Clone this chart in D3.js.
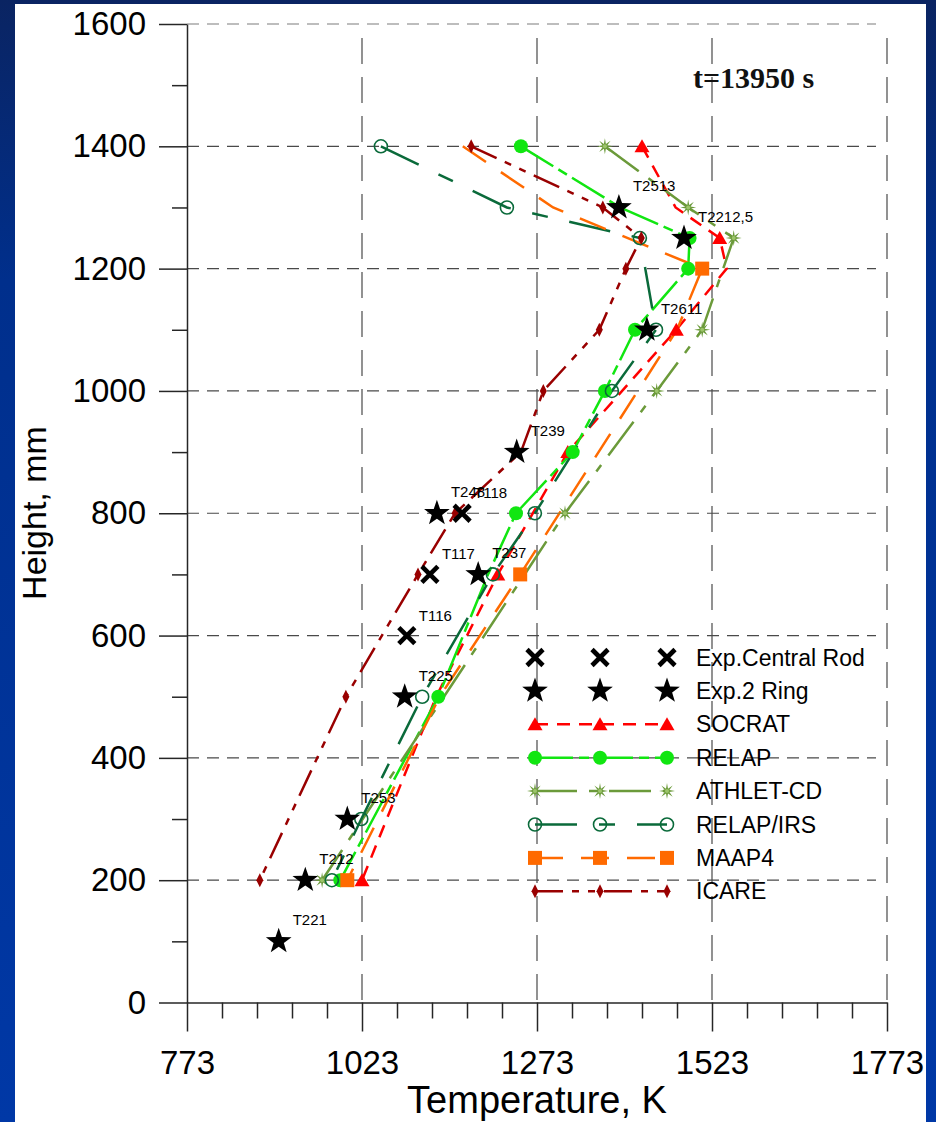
<!DOCTYPE html>
<html>
<head>
<meta charset="utf-8">
<script src="https://cdn.jsdelivr.net/npm/d3@7"></script>
<style>
  html, body { margin: 0; padding: 0; background: #fff; }
  svg { display: block; }
</style>
</head>
<body>
<svg id="chart" width="936" height="1122"></svg>
<script>
// ---- Axis ticks ----
const yMajorTicks = [0, 200, 400, 600, 800, 1000, 1200, 1400, 1600];
const yMinorTicks = [100, 300, 500, 700, 900, 1100, 1300, 1500];
const xMajorTicks = [773, 1023, 1273, 1523, 1773];
const xMinorTicks = [823, 873, 923, 973, 1073, 1123, 1173, 1223, 1323, 1373, 1423, 1473, 1573, 1623, 1673, 1723];
const yGridTicks = [200, 400, 600, 800, 1000, 1200, 1400];
const xGridTicks = [1023, 1273, 1523, 1773];

// ---- Experimental thermocouples ----
const rodNames = ["T116", "T117", "T118"];
const rodTemp = [1087, 1120, 1166];
const rodHeight = [600, 700, 800];

const ringNames = ["T221", "T212", "T253", "T225", "T237", "T248", "T239", "T2611", "T2212,5", "T2513"];
const ringTemp = [904, 942, 1002, 1084, 1189, 1130, 1244, 1430, 1483, 1390];
const ringHeight = [100, 200, 300, 500, 700, 800, 900, 1100, 1250, 1300];

// ---- Code calculations ----
const socratHeight = [1400, 1300, 1250, 1200, 1100, 900, 700, 500, 200];
const socratTemp = [1423, 1471, 1534, 1544, 1472, 1317, 1217, 1129, 1023];
const socratMarks = [1400, 1250, 1100, 900, 700, 200];

const relapHeight = [1400, 1300, 1250, 1200, 1100, 1000, 900, 800, 700, 500, 200];
const relapTemp = [1250, 1392, 1491, 1489, 1413, 1370, 1324, 1243, 1203, 1132, 992];
const relapMarks = [1400, 1250, 1200, 1100, 1000, 900, 800, 500, 200];

const athletHeight = [1400, 1300, 1250, 1200, 1100, 1000, 800, 500, 200];
const athletTemp = [1370, 1489, 1554, 1539, 1509, 1444, 1313, 1140, 966];
const athletMarks = [1400, 1300, 1250, 1100, 1000, 800, 200];

const irsHeight = [1400, 1300, 1250, 1100, 1000, 800, 700, 500, 300, 200];
const irsTemp = [1050, 1230, 1420, 1443, 1380, 1270, 1210, 1109, 1022, 980];
const irsMarks = [1400, 1300, 1250, 1100, 1000, 800, 700, 500, 300, 200];

const maapHeight = [1400, 1300, 1200, 1100, 700, 500, 200];
const maapTemp = [1167, 1296, 1509, 1473, 1249, 1134, 1002];
const maapMarks = [1200, 700, 200];

const icareHeight = [1400, 1300, 1250, 1200, 1100, 1000, 900, 800, 700, 500, 200];
const icareTemp = [1179, 1367, 1422, 1400, 1362, 1282, 1250, 1156, 1103, 1000, 877];
const icareMarks = [1400, 1300, 1250, 1200, 1100, 1000, 800, 700, 500, 200];

const seriesNames = ["SOCRAT", "RELAP", "ATHLET-CD", "RELAP/IRS", "MAAP4", "ICARE"];

// ---- Drawing ----
const svg = d3.select("#chart");
const W = 936, H = 1122;

const defs = svg.append("defs");
const grad = defs.append("linearGradient").attr("id", "bg")
  .attr("x1", 0).attr("y1", 0).attr("x2", 0).attr("y2", 1);
grad.append("stop").attr("offset", "0%").attr("stop-color", "#0a2462");
grad.append("stop").attr("offset", "25%").attr("stop-color", "#002f8c");
grad.append("stop").attr("offset", "100%").attr("stop-color", "#0038a6");

svg.append("rect").attr("width", W).attr("height", H).attr("fill", "url(#bg)");
svg.append("rect").attr("x", 15).attr("y", 4).attr("width", 911).attr("height", H - 4).attr("fill", "#ffffff");

const x = d3.scaleLinear().domain([773, 1773]).range([187, 887]);
const y = d3.scaleLinear().domain([0, 1600]).range([1002.5, 24]);

const FONT = "'Liberation Sans', Arial, Helvetica, sans-serif";

// grid
const grid = svg.append("g");
grid.selectAll("line.h").data(yGridTicks).join("line")
  .attr("x1", x(773)).attr("x2", 876)
  .attr("y1", d => y(d)).attr("y2", d => y(d))
  .attr("stroke", "#4a4a4a").attr("stroke-width", 1.2)
  .attr("stroke-dasharray", "12,8");
grid.append("line")
  .attr("x1", x(773)).attr("x2", 876)
  .attr("y1", y(1600)).attr("y2", y(1600))
  .attr("stroke", "#a8a8a8").attr("stroke-width", 1.4)
  .attr("stroke-dasharray", "12,8");
grid.selectAll("line.v").data(xGridTicks).join("line")
  .attr("x1", d => x(d)).attr("x2", d => x(d))
  .attr("y1", 38).attr("y2", y(0))
  .attr("stroke", "#4a4a4a").attr("stroke-width", 1.2)
  .attr("stroke-dasharray", "26,13");

// axes
function styleAxis(g) {
  g.selectAll("path.domain").attr("stroke", "#262626").attr("stroke-width", 1.5);
  g.selectAll(".tick line").attr("stroke", "#262626").attr("stroke-width", 1.5);
  g.selectAll(".tick text").attr("fill", "#000").style("font-family", FONT).style("font-size", "33px");
}

svg.append("g").attr("transform", `translate(${x(773)},0)`)
  .call(d3.axisLeft(y).tickValues(yMinorTicks).tickSize(15).tickSizeOuter(0).tickFormat(""))
  .call(g => g.select("path.domain").remove())
  .call(styleAxis);
svg.append("g").attr("transform", `translate(0,${y(0)})`)
  .call(d3.axisBottom(x).tickValues(xMinorTicks).tickSize(16).tickSizeOuter(0).tickFormat(""))
  .call(g => g.select("path.domain").remove())
  .call(styleAxis);
svg.append("g").attr("transform", `translate(${x(773)},0)`)
  .call(d3.axisLeft(y).tickValues(yMajorTicks).tickSize(28).tickSizeOuter(0).tickPadding(13).tickFormat(d3.format("d")))
  .call(styleAxis);
svg.append("g").attr("transform", `translate(0,${y(0)})`)
  .call(d3.axisBottom(x).tickValues(xMajorTicks).tickSize(29).tickSizeOuter(0).tickPadding(19).tickFormat(d3.format("d")))
  .call(styleAxis);

// axis titles
svg.append("text").attr("x", 537).attr("y", 1113).attr("text-anchor", "middle")
  .style("font-family", FONT).style("font-size", "38px").attr("fill", "#000")
  .text("Temperature, K");
svg.append("text").attr("transform", "translate(46,513) rotate(-90)").attr("text-anchor", "middle")
  .style("font-family", FONT).style("font-size", "34px").attr("fill", "#000")
  .text("Height, mm");

// time stamp
svg.append("text").attr("x", 693).attr("y", 88)
  .style("font-family", "'Liberation Serif', 'Times New Roman', serif")
  .style("font-size", "30px").style("font-weight", "bold").attr("fill", "#111")
  .text("t=13950 s");

// marker shapes
function starPath(R, r) {
  const pts = [];
  for (let i = 0; i < 10; i++) {
    const a = -Math.PI / 2 + i * Math.PI / 5;
    const rr = i % 2 === 0 ? R : r;
    pts.push([rr * Math.cos(a), rr * Math.sin(a)]);
  }
  return "M" + pts.map(p => p[0].toFixed(2) + "," + p[1].toFixed(2)).join("L") + "Z";
}
function burstPath(R, r) {
  const pts = [];
  for (let i = 0; i < 16; i++) {
    const a = -Math.PI / 2 + i * Math.PI / 8;
    const rr = i % 2 === 0 ? R : r;
    pts.push([rr * Math.cos(a), rr * Math.sin(a)]);
  }
  return "M" + pts.map(p => p[0].toFixed(2) + "," + p[1].toFixed(2)).join("L") + "Z";
}

const markerDraw = {
  "SOCRAT": (g, c) => g.append("path").attr("d", "M0,-7L7.5,6L-7.5,6Z").attr("fill", c),
  "RELAP": (g, c) => g.append("circle").attr("r", 7).attr("fill", c),
  "ATHLET-CD": (g, c) => {
    g.append("path").attr("d", burstPath(8, 2.6)).attr("fill", c);
    g.append("circle").attr("r", 2).attr("fill", "#9cc46a");
  },
  "RELAP/IRS": (g, c) => g.append("circle").attr("r", 6.5).attr("fill", "none").attr("stroke", c).attr("stroke-width", 1.6),
  "MAAP4": (g, c) => g.append("rect").attr("x", -7).attr("y", -7).attr("width", 14).attr("height", 14).attr("fill", c),
  "ICARE": (g, c) => g.append("path").attr("d", "M0,-7L3.5,0L0,7L-3.5,0Z").attr("fill", c)
};

const series = [
  { name: "SOCRAT", color: "#ff0000", dash: "13,9", h: socratHeight, t: socratTemp, marks: socratMarks },
  { name: "RELAP", color: "#11e611", dash: "38,6,10,6", h: relapHeight, t: relapTemp, marks: relapMarks },
  { name: "ATHLET-CD", color: "#6b9a3a", dash: "42,12,8,12", h: athletHeight, t: athletTemp, marks: athletMarks },
  { name: "RELAP/IRS", color: "#0a6a3a", dash: "42,22,16,22", h: irsHeight, t: irsTemp, marks: irsMarks },
  { name: "MAAP4", color: "#ff6a00", dash: "28,18", h: maapHeight, t: maapTemp, marks: maapMarks },
  { name: "ICARE", color: "#990000", dash: "28,9,7,9,7,9", h: icareHeight, t: icareTemp, marks: icareMarks }
];

const line = d3.line().x(d => x(d.t)).y(d => y(d.h));

const linesG = svg.append("g");
series.forEach(s => {
  const pts = s.h.map((h, i) => ({ h, t: s.t[i] }));
  linesG.append("path").datum(pts).attr("d", line)
    .attr("fill", "none").attr("stroke", s.color).attr("stroke-width", 2.5)
    .attr("stroke-dasharray", s.dash);
});

const marksG = svg.append("g");
series.forEach(s => {
  s.h.forEach((h, i) => {
    if (!s.marks.includes(h)) return;
    const g = marksG.append("g").attr("transform", `translate(${x(s.t[i])},${y(h)})`);
    markerDraw[s.name](g, s.color);
  });
});

// experimental markers
function drawX(g) {
  g.append("line").attr("x1", -8).attr("y1", -8).attr("x2", 8).attr("y2", 8)
    .attr("stroke", "#000").attr("stroke-width", 4.6);
  g.append("line").attr("x1", -8).attr("y1", 8).attr("x2", 8).attr("y2", -8)
    .attr("stroke", "#000").attr("stroke-width", 4.6);
}
function drawStar(g) {
  g.append("path").attr("d", starPath(13.5, 5.4)).attr("fill", "#000");
}

const expG = svg.append("g");
ringNames.forEach((n, i) => {
  const px = x(ringTemp[i]), py = y(ringHeight[i]);
  drawStar(expG.append("g").attr("transform", `translate(${px},${py})`));
});
rodNames.forEach((n, i) => {
  const px = x(rodTemp[i]), py = y(rodHeight[i]);
  drawX(expG.append("g").attr("transform", `translate(${px},${py})`));
});
ringNames.forEach((n, i) => {
  expG.append("text").attr("x", x(ringTemp[i]) + 14).attr("y", y(ringHeight[i]) - 16)
    .style("font-family", FONT).style("font-size", "15px").attr("fill", "#000").text(n);
});
rodNames.forEach((n, i) => {
  expG.append("text").attr("x", x(rodTemp[i]) + 12).attr("y", y(rodHeight[i]) - 15)
    .style("font-family", FONT).style("font-size", "15px").attr("fill", "#000").text(n);
});

// legend
const legX = [535, 600, 667];
const legTextX = 696;
const legY0 = 657.5, legStep = 33.4;
const legend = svg.append("g");
const legRows = [
  { label: "Exp.Central Rod", draw: g => drawX(g) },
  { label: "Exp.2 Ring", draw: g => drawStar(g) }
].concat(series.map(s => ({ label: s.name, series: s })));

legRows.forEach((row, i) => {
  const yy = legY0 + i * legStep;
  if (row.series) {
    legend.append("line").attr("x1", legX[0]).attr("x2", legX[2]).attr("y1", yy).attr("y2", yy)
      .attr("stroke", row.series.color).attr("stroke-width", 2.5)
      .attr("stroke-dasharray", row.series.dash);
  }
  legX.forEach(lx => {
    const g = legend.append("g").attr("transform", `translate(${lx},${yy})`);
    if (row.series) markerDraw[row.series.name](g, row.series.color);
    else row.draw(g);
  });
  legend.append("text").attr("x", legTextX).attr("y", yy + 8)
    .style("font-family", FONT).style("font-size", "23px").attr("fill", "#000")
    .text(row.label);
});
</script>
</body>
</html>
